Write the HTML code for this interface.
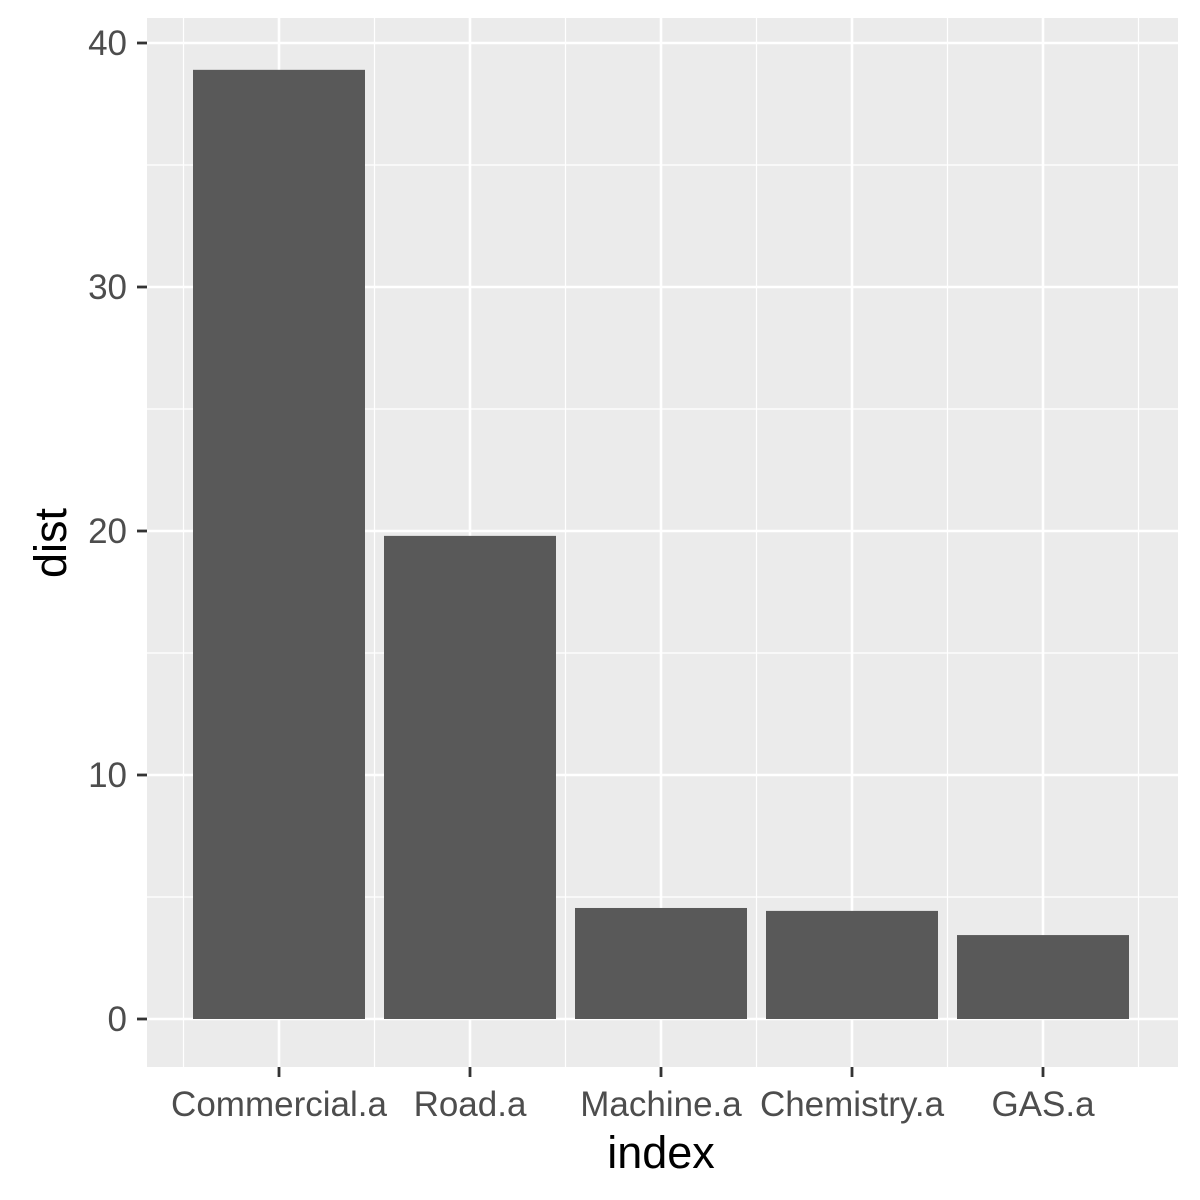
<!DOCTYPE html>
<html><head><meta charset="utf-8"><style>
html,body{margin:0;padding:0;background:#fff;}
svg{display:block;font-family:"Liberation Sans",Arial,sans-serif;}
</style></head><body>
<svg id="chart" width="1200" height="1200" viewBox="0 0 1200 1200">
<rect x="0" y="0" width="1200" height="1200" fill="#fff"/>
<rect x="147" y="18" width="1031" height="1049" fill="#ebebeb"/>
<g id="grid"></g><g id="bars"></g><g id="axes"></g>
<text x="661" y="1168" font-size="45" text-anchor="middle" fill="#000">index</text>
<text transform="translate(66,543) rotate(-90)" font-size="45" text-anchor="middle" fill="#000">dist</text>
</svg>
<script>
const categories = ["Commercial.a","Road.a","Machine.a","Chemistry.a","GAS.a"];
const values = [38.9, 19.8, 4.55, 4.43, 3.44];
const yTicks = [0, 10, 20, 30, 40];
const yMinor = [5, 15, 25, 35];
const NS = "http://www.w3.org/2000/svg";
function y(v){ return 1019 - v * 24.4; }
function x(i){ return 279 + i * 191; }
const bw = 172;
function mk(tag, attrs, parent){ const e = document.createElementNS(NS, tag); for (const k in attrs) e.setAttribute(k, attrs[k]); parent.appendChild(e); return e; }
const grid = document.getElementById("grid"), bars = document.getElementById("bars"), axes = document.getElementById("axes");
yMinor.forEach(v => {
  const l = mk("line", {x1:147, x2:1178, y1:y(v), y2:y(v), stroke:"#fff", "stroke-width":1.2}, grid);
  
  
});
for (let i = 0; i <= categories.length; i++) {
  const gx = x(i) - 95.5;
  const l = mk("line", {x1:gx, x2:gx, y1:18, y2:1067, stroke:"#fff", "stroke-width":1.2}, grid);
  
  
}
yTicks.forEach(v => {
  const l = mk("line", {x1:147, x2:1178, y1:y(v), y2:y(v), stroke:"#fff", "stroke-width":2.6}, grid);
  
  
  const t = mk("line", {x1:137, x2:147, y1:y(v), y2:y(v), stroke:"#333", "stroke-width":2.8}, axes);
  
  
  const tx = mk("text", {x:127, y:y(v)+12, "font-size":35, "text-anchor":"end", fill:"#4d4d4d"}, axes);
  tx.textContent = v;
  
  
});
categories.forEach((c, i) => {
  const l = mk("line", {x1:x(i), x2:x(i), y1:18, y2:1067, stroke:"#fff", "stroke-width":2.6}, grid);
  
  
  const r = mk("rect", {x:x(i)-bw/2, y:y(values[i]), width:bw, height:y(0)-y(values[i]), fill:"#595959"}, bars);
  
  
  const t = mk("line", {x1:x(i), x2:x(i), y1:1067, y2:1077, stroke:"#333", "stroke-width":2.8}, axes);
  
  
  const tx = mk("text", {x:x(i), y:1116, "font-size":35, "text-anchor":"middle", fill:"#4d4d4d"}, axes);
  tx.textContent = c;
  
  
});
</script>
</body></html>
